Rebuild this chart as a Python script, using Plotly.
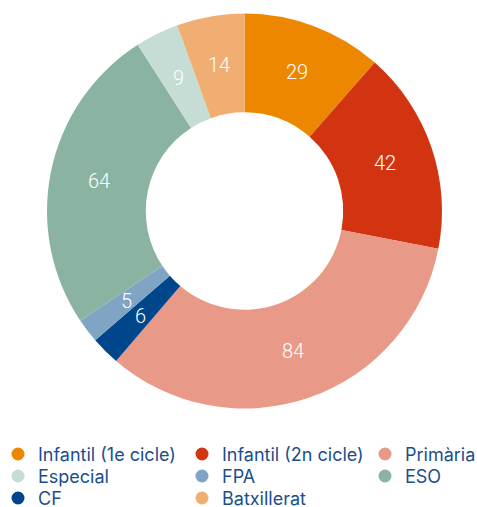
import math
import plotly.graph_objects as go

slice_labels = ["Infantil (1e cicle)", "Infantil (2n cicle)", "Primària", "CF", "FPA", "ESO", "Especial", "Batxillerat"]
slice_values = [29, 42, 84, 6, 5, 64, 9, 14]
slice_colors = ["#EE8700", "#D23411", "#E89987", "#00468B", "#80A4C4", "#8BB3A1", "#C6DDD5", "#F0AE72"]

# legend layout: three columns, read row by row
legend_order = ["Infantil (1e cicle)", "Infantil (2n cicle)", "Primària", "Especial", "FPA", "ESO", "CF", "Batxillerat"]
color_map = dict(zip(slice_labels, slice_colors))

W, H = 477, 507
HOLE = 0.5
dom_x = [47 / W, 442 / W]
dom_y = [1 - 409 / H, 1 - 13 / H]
col_text_x = [39, 223, 406]      # text start of each legend column (px)
row_center_y = [455, 477, 499]   # vertical centre of each legend row (px)

fig = go.Figure()
fig.add_trace(go.Pie(
    labels=slice_labels, values=slice_values, sort=False, direction="clockwise", rotation=0,
    hole=HOLE, marker=dict(colors=slice_colors, line=dict(width=0)),
    textinfo="none", showlegend=False, hoverinfo="label+value",
    domain=dict(x=dom_x, y=dom_y),
))

# value labels centred on the middle of the ring of each slice (like the original)
dw = (dom_x[1] - dom_x[0]) * W
dh = (dom_y[1] - dom_y[0]) * H
r_px = min(dw, dh) / 2
r_mid = r_px * (1 + HOLE) / 2
cx = (dom_x[0] + dom_x[1]) / 2
cy = (dom_y[0] + dom_y[1]) / 2
total = sum(slice_values)
cum = 0
annotations = []
for v in slice_values:
    ang = (cum + v / 2) / total * 2 * math.pi
    cum += v
    annotations.append(dict(
        x=cx + r_mid * math.sin(ang) / W, y=cy + r_mid * math.cos(ang) / H,
        xref="paper", yref="paper", xanchor="center", yanchor="middle",
        text=str(v), showarrow=False,
        font=dict(family="Roboto", size=20, color="white", weight=300),
    ))

layout_legends = {}
for i, name in enumerate(legend_order):
    key = "legend" if i == 0 else f"legend{i+1}"
    fig.add_trace(go.Scatter(x=[None], y=[None], mode="markers", name=name, legend=key,
                             marker=dict(size=13, color=color_map[name], symbol="circle")))
    col, row = i % 3, i // 3
    left_px = col_text_x[col] - 41
    top_px = row_center_y[row] - 19.2
    layout_legends[key] = dict(
        orientation="v", x=left_px / W, xanchor="left", y=1 - top_px / H, yanchor="top",
        font=dict(family="Inter", size=18, color="#1B4E8E"),
        bgcolor="rgba(0,0,0,0)", itemclick=False, itemdoubleclick=False,
    )

fig.update_layout(
    width=W, height=H, margin=dict(l=0, r=0, t=0, b=0, autoexpand=False),
    paper_bgcolor="white", plot_bgcolor="white",
    xaxis=dict(visible=False), yaxis=dict(visible=False),
    annotations=annotations,
    **layout_legends,
)
fig.write_html("out.html", config={"displayModeBar": False},
               post_script="document.body.style.margin='0px';")
